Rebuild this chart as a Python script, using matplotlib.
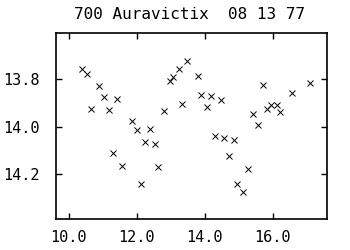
import matplotlib
matplotlib.use("Agg")
import matplotlib.pyplot as plt

title = "700 Auravictix  08 13 77"
jd = [10.382, 10.547, 10.656, 10.900, 11.047, 11.194, 11.429, 11.312, 11.568, 11.871,
      12.000, 12.118, 12.235, 12.382, 12.547, 12.626, 12.812, 12.979, 13.068, 13.244,
      13.341, 13.494, 13.818, 13.891, 14.059, 14.185, 14.471, 14.303, 14.559, 14.862,
      14.706, 15.282, 14.959, 15.126, 15.429, 15.559, 15.706, 15.832, 15.950, 16.118,
      16.224, 16.576, 17.112]
mag = [13.758, 13.776, 13.926, 13.828, 13.875, 13.931, 13.883, 14.112, 14.165, 13.976,
       14.013, 14.244, 14.066, 14.010, 14.072, 14.171, 13.933, 13.806, 13.790, 13.756,
       13.904, 13.723, 13.787, 13.866, 13.918, 13.871, 13.888, 14.040, 14.047, 14.055,
       14.124, 14.178, 14.241, 14.275, 13.947, 13.992, 13.823, 13.926, 13.910, 13.910,
       13.938, 13.858, 13.816]
xticks = [10.0, 12.0, 14.0, 16.0]
xticklabels = ["10.0", "12.0", "14.0", "16.0"]
yticks = [13.8, 14.0, 14.2]
yticklabels = ["13.8", "14.0", "14.2"]

plt.rcParams['font.family'] = ['DejaVu Sans Mono']
fig = plt.figure(figsize=(3.5, 2.5), dpi=100)
ax = fig.add_axes([0.16, 0.124, 0.774, 0.744])
ax.plot(jd, mag, linestyle='none', marker='x', color='black', markersize=4, markeredgewidth=0.7)
ax.set_xlim(9.63, 17.6)
ax.set_ylim(14.39, 13.604)
ax.set_xticks(xticks)
ax.set_xticklabels(xticklabels)
ax.set_yticks(yticks)
ax.set_yticklabels(yticklabels)
ax.tick_params(direction='in', length=4, width=1, top=True, right=True, labelsize=11)
ax.tick_params(axis='x', pad=8)
ax.tick_params(axis='y', pad=12)
for s in ax.spines.values():
    s.set_linewidth(1.2)
fig.text(0.54, 0.943, title, ha='center', va='center', fontsize=11.5)
fig.savefig("out.png", dpi=100)
